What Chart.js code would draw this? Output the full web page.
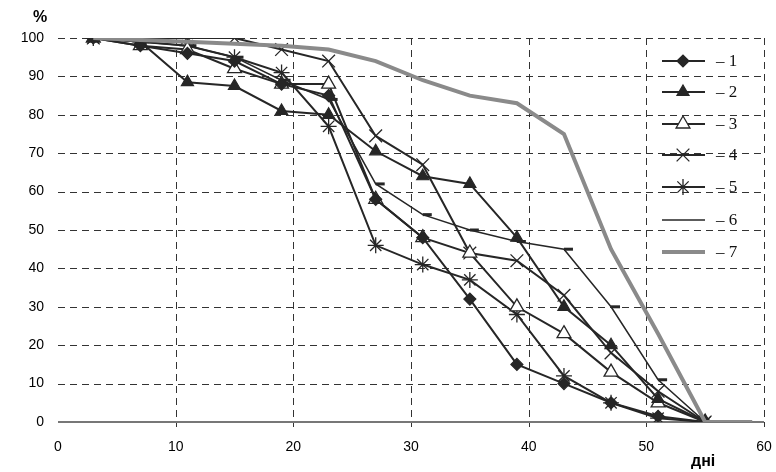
<!DOCTYPE html>
<html>
<head>
<meta charset="utf-8">
<script src="https://cdn.jsdelivr.net/npm/chart.js@4/dist/chart.umd.min.js"></script>
<style>
  html, body { margin: 0; padding: 0; background: #fff; }
  #wrap { width: 776px; height: 472px; position: relative; }
</style>
</head>
<body>
<div id="wrap"><canvas id="chart" width="776" height="472"></canvas></div>
<script>
const days = [3, 7, 11, 15, 19, 23, 27, 31, 35, 39, 43, 47, 51, 55];
const days7 = [3, 7, 11, 15, 19, 23, 27, 31, 35, 39, 43, 47, 51, 55, 59];

const series1 = [100, 98, 96, 94, 88, 85, 58, 48, 32, 15, 10, 5, 1.5, 0];
const series2 = [100, 99, 88.5, 87.5, 81, 80, 70.5, 64, 62, 48, 30, 20, 6, 0];
const series3 = [100, 98, 97, 92, 88, 88, 58, 48, 44, 30, 23, 13, 5, 0];
const series4 = [100, 100, 100, 100, 97, 94, 74.5, 67, 44, 42, 33, 18, 8, 0];
const series5 = [100, 99, 98, 95, 91, 77, 46, 41, 37, 28, 12, 5, 1, 0];
const series6 = [100, 99, 98, 95, 89, 84, 62, 54, 50, 47, 45, 30, 11, 0];
const series7 = [100, 99.5, 99, 98.5, 98, 97, 94, 89, 85, 83, 75, 45, 23, 0, 0];

const legendLabels = ["– 1", "– 2", "– 3", "– 4", "– 5", "– 6", "– 7"];
const xTicks = [0, 10, 20, 30, 40, 50, 60];

const dark = "#262626";
const gray = "#8a8a8a";

function toPoints(xs, ys) {
  return ys.map((v, i) => ({ x: xs[i], y: v }));
}

function ds(label, xs, ys, style) {
  return Object.assign({
    label,
    data: toPoints(xs, ys),
    borderColor: dark,
    backgroundColor: dark,
    borderWidth: 2,
    pointBorderColor: dark,
    pointBackgroundColor: dark,
    pointBorderWidth: 1.2,
    tension: 0,
  }, style);
}

const datasets = [
  ds(legendLabels[6], days7, series7, { borderColor: gray, borderWidth: 4, pointRadius: 0 }),
  ds(legendLabels[0], days, series1, { pointStyle: "rectRot", pointRadius: 6 }),
  ds(legendLabels[1], days, series2, { pointStyle: "triangle", pointRadius: 7 }),
  ds(legendLabels[2], days, series3, { pointStyle: "triangle", pointRadius: 8, pointBackgroundColor: "#fff", pointBorderWidth: 1.3 }),
  ds(legendLabels[3], days, series4, { pointStyle: "crossRot", pointRadius: 9, pointBorderWidth: 1.3 }),
  ds(legendLabels[4], days, series5, { pointStyle: "star", pointRadius: 8, pointBorderWidth: 1.3 }),
  ds(legendLabels[5], days, series6, { borderWidth: 1.5, pointStyle: "dash", pointRadius: 9, pointBorderWidth: 3 }),
];

// dashed grid, drawn before the datasets
const dashedGrid = {
  id: "dashedGrid",
  beforeDatasetsDraw(chart) {
    const { ctx, chartArea: a, scales } = chart;
    ctx.save();
    ctx.strokeStyle = "#333";
    ctx.lineWidth = 1;
    ctx.setLineDash([7, 5]);
    xTicks.forEach(v => {
      if (v === 0) return;
      const x = Math.round(scales.x.getPixelForValue(v)) + 0.5;
      ctx.beginPath();
      ctx.moveTo(x, a.top);
      ctx.lineTo(x, a.bottom + 5);
      ctx.stroke();
    });
    scales.y.ticks.forEach(t => {
      if (t.value === 0) return;
      const y = Math.round(scales.y.getPixelForValue(t.value)) + 0.5;
      ctx.beginPath();
      ctx.moveTo(a.left, y);
      ctx.lineTo(a.right, y);
      ctx.stroke();
    });
    ctx.setLineDash([]);
    ctx.strokeStyle = "#777";
    ctx.lineWidth = 2;
    ctx.beginPath();
    ctx.moveTo(a.left, a.bottom);
    ctx.lineTo(a.right, a.bottom);
    ctx.stroke();
    ctx.restore();
  },
};

// legend drawn inside the plot, like the original
const legendOrder = [1, 2, 3, 4, 5, 6, 0];
const insideLegend = {
  id: "insideLegend",
  afterDraw(chart) {
    const ctx = chart.ctx;
    const yPos = [61, 92, 124, 155, 187, 220, 252];
    ctx.save();
    legendOrder.forEach((dsIndex, i) => {
      const d = chart.data.datasets[dsIndex];
      const y = yPos[i];
      ctx.strokeStyle = d.borderColor;
      ctx.lineWidth = d.borderWidth;
      ctx.setLineDash([]);
      ctx.beginPath();
      ctx.moveTo(662, y);
      ctx.lineTo(705, y);
      ctx.stroke();
      if (d.pointRadius && d.pointStyle !== "dash") {
        ctx.fillStyle = d.pointBackgroundColor;
        ctx.strokeStyle = d.pointBorderColor;
        ctx.lineWidth = d.pointBorderWidth;
        Chart.helpers.drawPoint(ctx, {
          pointStyle: d.pointStyle,
          radius: d.pointRadius,
          borderWidth: d.pointBorderWidth,
          rotation: 0,
        }, 683, y);
      }
      ctx.fillStyle = "#111";
      ctx.font = "17px 'Liberation Serif', serif";
      ctx.textAlign = "left";
      ctx.textBaseline = "middle";
      ctx.fillText(d.label, 716, y + 1);
    });

    ctx.fillStyle = "#000";
    ctx.font = "bold 16px 'Liberation Sans', Arial, sans-serif";
    ctx.textAlign = "left";
    ctx.textBaseline = "middle";
    ctx.fillText("%", 33, 18);
    ctx.fillText("дні", 691, 462);
    ctx.restore();
  },
};

new Chart(document.getElementById("chart"), {
  type: "line",
  data: { datasets },
  options: {
    responsive: false,
    animation: false,
    layout: { padding: { top: 38, right: 11, left: 0, bottom: 0 } },
    plugins: {
      legend: { display: false },
      tooltip: { enabled: false },
    },
    scales: {
      x: {
        type: "linear",
        min: 0,
        max: 60,
        afterBuildTicks: scale => { scale.ticks = xTicks.map(v => ({ value: v })); },
        afterFit: scale => {
          scale.height = 50;
          scale.paddingLeft = 0;
          scale.paddingRight = 0;
        },
        ticks: {
          color: "#000",
          font: { family: "'Liberation Sans', Arial, sans-serif", size: 14 },
          padding: 9,
          maxRotation: 0,
        },
        grid: { display: false },
        border: { display: false },
      },
      y: {
        min: 0,
        max: 100,
        afterFit: scale => { scale.width = 58; },
        ticks: {
          stepSize: 10,
          color: "#000",
          font: { family: "'Liberation Sans', Arial, sans-serif", size: 14 },
          padding: 14,
        },
        grid: { display: false, drawTicks: false },
        border: { display: false },
      },
    },
  },
  plugins: [dashedGrid, insideLegend],
});
</script>
</body>
</html>
